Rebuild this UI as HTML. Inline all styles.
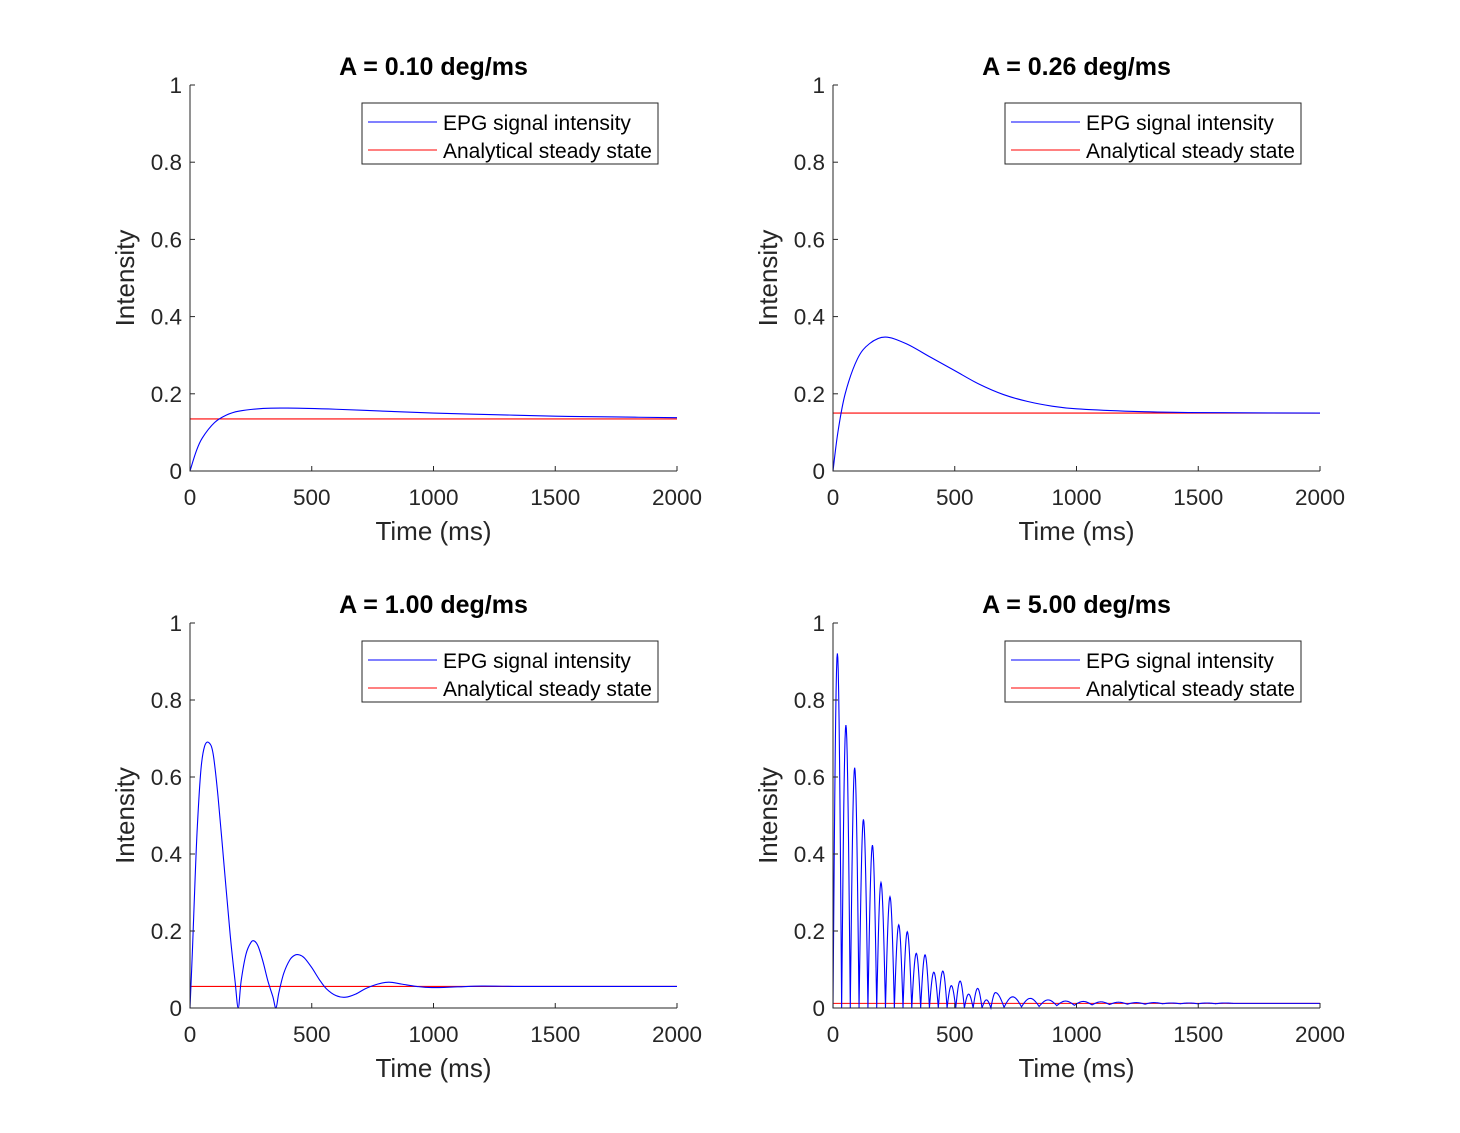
<!DOCTYPE html>
<html><head><meta charset="utf-8"><style>
html,body{margin:0;padding:0;background:#fff;}
svg{display:block;font-family:"Liberation Sans",Arial,sans-serif;}
</style></head><body>
<svg id="fig" width="1460" height="1133" viewBox="0 0 1460 1133"></svg>
<script>
// ---- data ----
const titles = ["A = 0.10 deg/ms","A = 0.26 deg/ms","A = 1.00 deg/ms","A = 5.00 deg/ms"];
const xTicks = [0,500,1000,1500,2000];
const yTicks = [0,0.2,0.4,0.6,0.8,1];
const yTickLabels = ["0","0.2","0.4","0.6","0.8","1"];
const steadyValues = [0.135,0.150,0.056,0.012];
const t1 = [0,25,50,100,150,200,300,400,600,800,1000,1250,1500,1750,2000];
const v1 = [0,0.05,0.085,0.125,0.145,0.155,0.162,0.163,0.16,0.155,0.15,0.146,0.142,0.14,0.138];
const t2 = [0,20,50,100,150,214,300,400,500,600,700,800,900,1000,1200,1400,1600,2000];
const v2 = [0,0.1,0.2,0.29,0.33,0.347,0.33,0.295,0.26,0.225,0.198,0.18,0.168,0.161,0.155,0.152,0.151,0.15];
const t3 = [0,10,20,30,45,60,78,95,115,140,165,185,198,210,230,250,264,280,300,320,340,353,365,385,410,430,449,470,500,530,560,600,639,680,720,770,817,870,930,993,1100,1200,1350,1500,2000];
const v3 = [0,0.15,0.32,0.47,0.62,0.68,0.689,0.66,0.55,0.37,0.19,0.07,0,0.07,0.14,0.17,0.174,0.16,0.12,0.07,0.03,0,0.04,0.09,0.125,0.137,0.138,0.13,0.105,0.075,0.05,0.032,0.028,0.036,0.05,0.062,0.067,0.062,0.056,0.053,0.055,0.057,0.056,0.056,0.056];
// panel 4: oscillation lobes (peak times, peak values, trough values after each peak)
const peakTimes4 = [18,53,89,125,162,197,234,270,305,342,378,414,451,486,522,557,594,630,667,738,810,883,955,1028,1100,1172,1245,1318,1390,1462,1535,1608,1680,1752,1825,1898,1970];
const peakValues4 = [0.921,0.735,0.624,0.490,0.423,0.326,0.289,0.216,0.198,0.142,0.138,0.093,0.096,0.058,0.070,0.036,0.051,0.021,0.040,0.029,0.025,0.021,0.018,0.017,0.016,0.015,0.014,0.014,0.013,0.013,0.013,0.013,0.012,0.012,0.012,0.012,0.012];
const troughValues4 = [0,0,0,0,0,0,0,0,0,0,0,0,0,0,0,0,0,0,0.002,0.003,0.004,0.006,0.007,0.008,0.009,0.01,0.01,0.011,0.011,0.011,0.011,0.012,0.012,0.012,0.012,0.012,0.012];

const NS="http://www.w3.org/2000/svg";
const svg=document.getElementById('fig');
function mk(tag,attrs,parent){const e=document.createElementNS(NS,tag);for(const k in attrs)e.setAttribute(k,attrs[k]);(parent||svg).appendChild(e);return e;}
const panels=[{x0:190,x1:677,y0:471,y1:85},{x0:833,x1:1320,y0:471,y1:85},{x0:190,x1:677,y0:1008,y1:623},{x0:833,x1:1320,y0:1008,y1:623}];

function smoothPath(pts){
  let d="M"+pts[0][0].toFixed(2)+","+pts[0][1].toFixed(2);
  for(let i=0;i<pts.length-1;i++){
    const p0=pts[Math.max(0,i-1)],p1=pts[i],p2=pts[i+1],p3=pts[Math.min(pts.length-1,i+2)];
    const c1=[p1[0]+(p2[0]-p0[0])/6,p1[1]+(p2[1]-p0[1])/6];
    const c2=[p2[0]-(p3[0]-p1[0])/6,p2[1]-(p3[1]-p1[1])/6];
    d+=" C"+c1[0].toFixed(2)+","+c1[1].toFixed(2)+" "+c2[0].toFixed(2)+","+c2[1].toFixed(2)+" "+p2[0].toFixed(2)+","+p2[1].toFixed(2);
  }
  return d;
}

panels.forEach((p,i)=>{
  const g=mk('g',{});
  
  
  const sx=t=>p.x0+(t/2000)*(p.x1-p.x0);
  const sy=v=>p.y0+v*(p.y1-p.y0);
  let d;
  if(i<3){
    const T=[t1,t2,t3][i],V=[v1,v2,v3][i];
    d=smoothPath(T.map((t,k)=>[sx(t),sy(V[k])]));
  } else {
    d="M"+sx(0)+","+sy(0);
    let prevT=0, prevV=0;
    for(let k=0;k<peakTimes4.length;k++){
      const pt=peakTimes4[k], pk=peakValues4[k], tr=troughValues4[k];
      const nextT = k+1<peakTimes4.length ? (pt+peakTimes4[k+1])/2 : 2000;
      for(let s=1;s<=10;s++){
        const f=s/10, t=prevT+f*(pt-prevT);
        const v=prevV+(pk-prevV)*Math.sin(Math.PI/2*f);
        d+=" L"+sx(t).toFixed(2)+","+sy(v).toFixed(2);
      }
      for(let s=1;s<=10;s++){
        const f=s/10, t=pt+f*(nextT-pt);
        const v=tr+(pk-tr)*Math.cos(Math.PI/2*f);
        d+=" L"+sx(t).toFixed(2)+","+sy(v).toFixed(2);
      }
      prevT=nextT; prevV=tr;
    }
  }
  const red=mk('line',{x1:sx(0),x2:sx(2000),y1:sy(steadyValues[i]),y2:sy(steadyValues[i]),stroke:'#ff0000','stroke-width':1.1},g);
  
  
  const blue=mk('path',{d:d,fill:'none',stroke:'#0000ff','stroke-width':1.1},g);
  
  
  const ax=mk('path',{d:`M${p.x0},${p.y1} L${p.x0},${p.y0} L${p.x1},${p.y0}`,fill:'none',stroke:'#262626','stroke-width':1},g);
  
  
  xTicks.forEach(t=>{
    mk('line',{x1:sx(t),x2:sx(t),y1:p.y0,y2:p.y0-5,stroke:'#262626'},g);
    const tx=mk('text',{x:sx(t),y:p.y0+34,'text-anchor':'middle','font-size':22.5,fill:'#262626'},g);
    tx.textContent=String(t);
    
    
  });
  yTicks.forEach((v,k)=>{
    mk('line',{x1:p.x0,x2:p.x0+5,y1:sy(v),y2:sy(v),stroke:'#262626'},g);
    const tx=mk('text',{x:p.x0-8,y:sy(v)+8,'text-anchor':'end','font-size':22.5,fill:'#262626'},g);
    tx.textContent=yTickLabels[k];
    
    
  });
  const xl=mk('text',{x:(p.x0+p.x1)/2,y:p.y0+69,'text-anchor':'middle','font-size':26,fill:'#262626'},g);
  xl.textContent='Time (ms)';
  
  
  const ym=(p.y0+p.y1)/2;
  const yl=mk('text',{x:p.x0-56,y:ym,'text-anchor':'middle','font-size':26,fill:'#262626',transform:`rotate(-90 ${p.x0-56} ${ym})`},g);
  yl.textContent='Intensity';
  
  
  const tt=mk('text',{x:(p.x0+p.x1)/2,y:p.y1-10,'text-anchor':'middle','font-size':25,'font-weight':'bold',fill:'#000'},g);
  tt.textContent=titles[i];
  
  
  const lx=p.x0+172, ly=p.y1+18;
  const lg=mk('g',{},g);
  
  
  mk('rect',{x:lx,y:ly,width:296,height:61,fill:'#fff',stroke:'#262626','stroke-width':1},lg);
  mk('line',{x1:lx+6,x2:lx+75,y1:ly+19,y2:ly+19,stroke:'#0000ff','stroke-width':1.1},lg);
  mk('line',{x1:lx+6,x2:lx+75,y1:ly+47,y2:ly+47,stroke:'#ff0000','stroke-width':1.1},lg);
  const e1=mk('text',{x:lx+81,y:ly+27,'font-size':21,fill:'#000'},lg);
  e1.textContent='EPG signal intensity';
  
  
  const e2=mk('text',{x:lx+81,y:ly+55,'font-size':21,fill:'#000'},lg);
  e2.textContent='Analytical steady state';
  
  
});
</script>
</body></html>
